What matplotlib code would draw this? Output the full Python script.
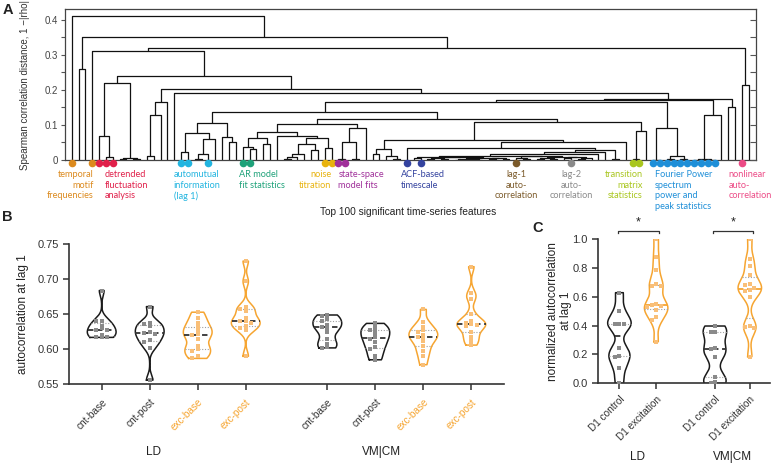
import numpy as np
import matplotlib
matplotlib.use("Agg")
import matplotlib.pyplot as plt
from matplotlib.ticker import MultipleLocator

plt.rcParams["font.family"] = ["Liberation Sans", "DejaVu Sans"]

# ---------------- panel A: dendrogram of the top 100 features ----------------
# tree written as (left,right):height, leaves numbered left to right
G = "(4,(5,6):0.008):0.069"
H = "((7,8):0.002,(9,10):0.002):0.005"
I = "(((11,12):0.011,13):0.129,14):0.165"
L1L = ("(((16,17):0.024,(((18,19):0.004,20):0.016,21):0.059):0.078,"
       "(22,(23,24):0.05):0.067):0.107")
AR = "((25,(26,27):0.03):0.038,(28,29):0.045):0.064"
NT = "(30,(((((31,32):0.004,33):0.008,34):0.018,(35,36):0.028):0.045,(37,38):0.033):0.062):0.069"
SS = "(((39,40):0.002,(41,42):0.002):0.05,43):0.09"
M = "((" + AR + "," + NT + "):0.081," + SS + "):0.102"
P = "((44,45):0.016,(46,(47,48):0.003):0.012):0.03"
QA1 = ("((50,51):0.006,(((52,53):0.002,(54,55):0.003):0.005,(((56,57):0.001,"
       "(58,(59,60):0.0005):0.0015):0.003,((61,62):0.002,(63,64):0.004):0.006):0.007):0.008):0.0095")
QA2 = ("((65,(66,67):0.003):0.006,(((68,69):0.002,(70,71):0.004):0.007,"
       "((72,73):0.005,((74,75):0.003,76):0.006):0.008):0.009):0.0105")
QR = "((((" + QA1 + "," + QA2 + "):0.012,77):0.018,78):0.024,(79,80):0.004):0.029"
Q = "((49," + QR + "):0.033,81):0.05"
N = "((" + P + "," + Q + "):0.057,((82,83):0.003,84):0.083):0.109"
L1 = "(" + L1L + ",(" + M + "," + N + "):0.116):0.138"
FP = "((85,86):0.001,((87,88):0.002,(89,90):0.002):0.01):0.09"
K1B = "(((91,92):0.001,(93,94):0.001):0.002,95):0.129"
K = "(((" + L1 + "," + FP + "):0.165," + K1B + "):0.17,(96,97):0.152):0.173"
J = "(15," + K + "):0.19"
F = "((" + G + "," + H + "):0.219,(" + I + "," + J + "):0.202):0.24"
TREE = "(0,((1,2):0.26,((3," + F + "):0.311,(98,99):0.214):0.321):0.35):0.412"

group_names = [
    "temporal\nmotif\nfrequencies", "detrended\nfluctuation\nanalysis",
    "automutual\ninformation\n(lag 1)", "AR model\nfit statistics",
    "noise\ntitration", "state-space\nmodel fits", "ACF-based\ntimescale",
    "lag-1\nauto-\ncorrelation", "lag-2\nauto-\ncorrelation",
    "transition\nmatrix\nstatistics",
    "Fourier Power\nspectrum\npower and\npeak statistics",
    "nonlinear\nauto-\ncorrelation",
]
group_leaves = [
    [0, 3], [4, 5, 6], [16, 17, 20], [25, 26], [37, 38], [39, 40], [49, 51],
    [65], [73], [82, 83], list(range(85, 95)), [98],
]
group_colors = [
    "#DC8A1E", "#E0204A", "#22B5E0", "#1FA27A", "#E8B30E", "#A0309A",
    "#34439F", "#7B5A2A", "#8A8A8A", "#A9C61F", "#1F8FD8", "#EC4B86",
]
# label anchor (leaf units) and alignment
label_anchor = [(3.16, "right"), (4.8, "left"), (14.9, "left"), (24.4, "left"),
                (38.0, "right"), (39.0, "left"), (48.1, "left"), (65.0, "center"),
                (73.1, "center"), (83.5, "right"), (85.3, "left"), (96.0, "left")]

# ---------------- panel B ----------------
b_labels = ["cnt-base", "cnt-post", "exc-base", "exc-post"] * 2
b_values = [
    [0.684, 0.641, 0.640, 0.634, 0.630, 0.628, 0.627, 0.621, 0.618, 0.617, 0.617],
    [0.661, 0.638, 0.636, 0.633, 0.625, 0.623, 0.622, 0.613, 0.611, 0.602, 0.556],
    [0.653, 0.645, 0.637, 0.632, 0.628, 0.622, 0.620, 0.615, 0.605, 0.600, 0.598, 0.590, 0.587],
    [0.726, 0.697, 0.660, 0.658, 0.655, 0.645, 0.641, 0.640, 0.638, 0.633, 0.630, 0.627, 0.590],
    [0.649, 0.648, 0.643, 0.640, 0.635, 0.632, 0.631, 0.625, 0.615, 0.608, 0.604, 0.602],
    [0.637, 0.633, 0.628, 0.627, 0.622, 0.617, 0.615, 0.610, 0.603, 0.600, 0.590, 0.585],
    [0.657, 0.639, 0.632, 0.628, 0.625, 0.621, 0.618, 0.616, 0.612, 0.605, 0.598, 0.590, 0.578],
    [0.718, 0.680, 0.672, 0.650, 0.640, 0.637, 0.636, 0.635, 0.633, 0.625, 0.618, 0.612, 0.606],
]
b_is_exc = [False, False, True, True] * 2
b_regions = ["LD", "VM|CM"]

# ---------------- panel C ----------------
c_labels = ["D1 control", "D1 excitation"] * 2
c_values = [
    [0.628, 0.503, 0.41, 0.41, 0.41, 0.243, 0.19, 0.185, 0.106, 0.0],
    [1.0, 0.877, 0.785, 0.686, 0.676, 0.672, 0.55, 0.54, 0.536, 0.53, 0.508, 0.46, 0.44, 0.288],
    [0.397, 0.355, 0.355, 0.243, 0.235, 0.18, 0.045, 0.01, 0.0],
    [1.0, 0.86, 0.815, 0.75, 0.685, 0.68, 0.66, 0.65, 0.64, 0.60, 0.40, 0.39, 0.38, 0.185],
]
c_is_exc = [False, True, False, True]

ORANGE = "#F6A531"
ORANGE_PT = "#F9BF78"
GREY_PT = "#8A8A8A"
DARK = "#333333"


def parse_tree(s):
    segs = []
    pos = [0]

    def number():
        st = pos[0]
        while pos[0] < len(s) and (s[pos[0]].isdigit() or s[pos[0]] == "."):
            pos[0] += 1
        return float(s[st:pos[0]])

    def node():
        if s[pos[0]] == "(":
            pos[0] += 1
            xl, hl = node()
            pos[0] += 1  # ','
            xr, hr = node()
            pos[0] += 2  # '):'
            h = number()
            segs.append(([xl, xl, xr, xr], [hl, h, h, hr]))
            return (xl + xr) / 2, h
        return number(), 0.0

    node()
    return segs


def kde_outline(vals, bw, n=240):
    vals = np.asarray(vals, float)
    ys = np.linspace(vals.min(), vals.max(), n)
    d = np.exp(-0.5 * ((ys[:, None] - vals[None, :]) / bw) ** 2).sum(1)
    return ys, d / d.max()


def swarm(vals, dy, dx):
    vals = np.asarray(vals, float)
    offs = np.zeros(len(vals))
    placed = []
    for i in np.argsort(vals)[::-1]:
        for k in (0, -1, 1, -2, 2, -3, 3):
            o = k * dx
            if all(abs(vals[i] - vals[j]) > dy or abs(o - offs[j]) > dx * 0.9 for j in placed):
                break
        offs[i] = o
        placed.append(i)
    return offs


def violin(ax, x, vals, bw, halfw, edge, med_c, pt_c, dy, dx):
    ys, d = kde_outline(vals, bw)
    w = d * halfw
    xs = np.concatenate([x - w, (x + w)[::-1], [x - w[0]]])
    yy = np.concatenate([ys, ys[::-1], [ys[0]]])
    ax.plot(xs, yy, color=edge, lw=1.1, zorder=2)
    q1, med, q3 = np.percentile(vals, [25, 50, 75])
    for q in (q1, q3):
        wq = np.interp(q, ys, w)
        ax.plot([x - wq, x + wq], [q, q], ls=(0, (1, 1.5)), color="#A0A0A0", lw=0.8, zorder=2)
    wq = np.interp(med, ys, w)
    ax.plot([x - wq, x + wq], [med, med], ls=(0, (3, 2)), color=med_c, lw=1.3, zorder=3)
    ax.scatter(x + swarm(vals, dy, dx), vals, s=7, marker="s", color=pt_c, lw=0, zorder=4)


def style_axis(ax):
    for sp in ("top", "right"):
        ax.spines[sp].set_visible(False)
    for sp in ("left", "bottom"):
        ax.spines[sp].set_color(DARK)
        ax.spines[sp].set_linewidth(1.2)
    ax.tick_params(colors=DARK, length=4, width=1.1, labelsize=8)


W, Hpx = 774, 465
fig = plt.figure(figsize=(W / 100, Hpx / 100), dpi=100)

# ---- A ----
axA = fig.add_axes([65 / W, (Hpx - 160) / Hpx, 691 / W, 151 / Hpx])
for xs, ys in parse_tree(TREE):
    axA.plot(xs, ys, color="#111111", lw=0.9, solid_capstyle="butt")
axA.set_xlim(-0.98, 100.05)
axA.set_ylim(0, 0.4314)
for sp in axA.spines.values():
    sp.set_color("#444444")
    sp.set_linewidth(0.9)
axA.set_xticks([])
axA.yaxis.set_major_locator(MultipleLocator(0.1))
axA.yaxis.set_minor_locator(MultipleLocator(0.05))
axA.set_yticklabels(["0", "0.1", "0.2", "0.3", "0.4"] if False else [])
axA.set_yticks([0, 0.1, 0.2, 0.3, 0.4])
axA.set_yticklabels(["0", "0.1", "0.2", "0.3", "0.4"])
axA.tick_params(axis="y", which="both", length=3, width=0.8, colors="#555555",
                labelsize=7, labelcolor="#444444", pad=2)
axA.set_ylabel("Spearman correlation distance, 1 \u2212|rho|", fontsize=7, color="#333333")
axA.yaxis.set_label_coords(-0.0507, 0.5)
axR = axA.twinx()
axR.set_ylim(axA.get_ylim())
axR.yaxis.set_major_locator(MultipleLocator(0.05))
axR.tick_params(axis="y", direction="in", length=4.5, width=0.8, colors="#555555",
                labelright=False)
for sp in axR.spines.values():
    sp.set_visible(False)

for name, leaves, col, (lx, ha) in zip(group_names, group_leaves, group_colors, label_anchor):
    axA.scatter(leaves, [-0.009] * len(leaves), s=30, color=col, lw=0, zorder=6, clip_on=False)
    axA.text(lx, -0.0285, name, color=col, fontsize=6.6, family=["Lato", "DejaVu Sans"],
             ha=ha, va="top", multialignment=ha, linespacing=1.25)

fig.text(408.5 / W, 1 - 211.7 / Hpx, "Top 100 significant time-series features",
         fontsize=7.3, color="#222222", ha="center", va="center")

# ---- B ----
axB = fig.add_axes([69.3 / W, (Hpx - 384.3) / Hpx, 434.7 / W, 140 / Hpx])
b_pos = [0, 1, 2, 3, 4.7, 5.7, 6.7, 7.7]
for x, vals, exc in zip(b_pos, b_values, b_is_exc):
    violin(axB, x, vals, bw=0.0075, halfw=0.3,
           edge=ORANGE if exc else "#1A1A1A", med_c="#333333",
           pt_c=ORANGE_PT if exc else GREY_PT, dy=0.004, dx=0.11)
axB.set_xlim(-0.675, 8.38)
axB.set_ylim(0.55, 0.75)
style_axis(axB)
axB.set_yticks([0.55, 0.60, 0.65, 0.70, 0.75])
axB.set_yticklabels(["0.55", "0.60", "0.65", "0.70", "0.75"])
axB.set_xticks(b_pos)
axB.set_xticklabels(b_labels, rotation=45, ha="right", rotation_mode="anchor", fontsize=7.2)
for lab, exc in zip(axB.get_xticklabels(), b_is_exc):
    lab.set_color(ORANGE if exc else "#333333")
axB.tick_params(axis="x", pad=5)
axB.set_ylabel("autocorrelation at lag 1", fontsize=8.5, color="#222222")
axB.yaxis.set_label_coords(-0.0927, 0.5)
for x, reg in zip([1.07, 5.83], b_regions):
    axB.text(x, -0.484, reg, transform=axB.get_xaxis_transform(), fontsize=8.5,
             ha="center", va="center", color="#222222")

# ---- C ----
axC = fig.add_axes([598.3 / W, (Hpx - 383.3) / Hpx, 171.7 / W, 144.3 / Hpx])
c_pos = [0, 1, 2.6, 3.55]
for x, vals, exc in zip(c_pos, c_values, c_is_exc):
    violin(axC, x, vals, bw=0.055, halfw=0.32,
           edge=ORANGE if exc else "#1A1A1A", med_c=ORANGE if exc else "#333333",
           pt_c=ORANGE_PT if exc else GREY_PT, dy=0.03, dx=0.12)
axC.set_xlim(-0.575, 4.1)
axC.set_ylim(0, 1.0)
style_axis(axC)
axC.set_yticks([0, 0.2, 0.4, 0.6, 0.8, 1.0])
axC.set_yticklabels(["0.0", "0.2", "0.4", "0.6", "0.8", "1.0"])
axC.set_xticks(c_pos)
axC.set_xticklabels(c_labels, rotation=45, ha="right", rotation_mode="anchor", fontsize=7.2,
                    color="#333333")
axC.tick_params(axis="x", pad=4)
axC.set_ylabel("normalized autocorrelation\nat lag 1", fontsize=8.5, color="#222222",
               linespacing=1.1)
axC.yaxis.set_label_coords(-0.153, 0.5)
for (a, b), reg in zip([(c_pos[0], c_pos[1]), (c_pos[2], c_pos[3])], b_regions):
    axC.plot([a - 0.05, a - 0.05, b + 0.09, b + 0.09], [1.045, 1.057, 1.057, 1.045],
             color="#333333", lw=0.9, clip_on=False)
    axC.text((a + b) / 2 + 0.02, 1.115, "*", ha="center", va="center", fontsize=9,
             color="#222222")
    axC.text((a + b) / 2, -0.509, reg, transform=axC.get_xaxis_transform(), fontsize=8.5,
             ha="center", va="center", color="#222222")

for letter, x, y in (("A", 3, 3), ("B", 2, 210), ("C", 532, 221)):
    fig.text(x / W, 1 - y / Hpx, letter, fontsize=10.5, fontweight="bold", ha="left", va="top",
             color="#222222")

fig.savefig("out.png", dpi=100)
